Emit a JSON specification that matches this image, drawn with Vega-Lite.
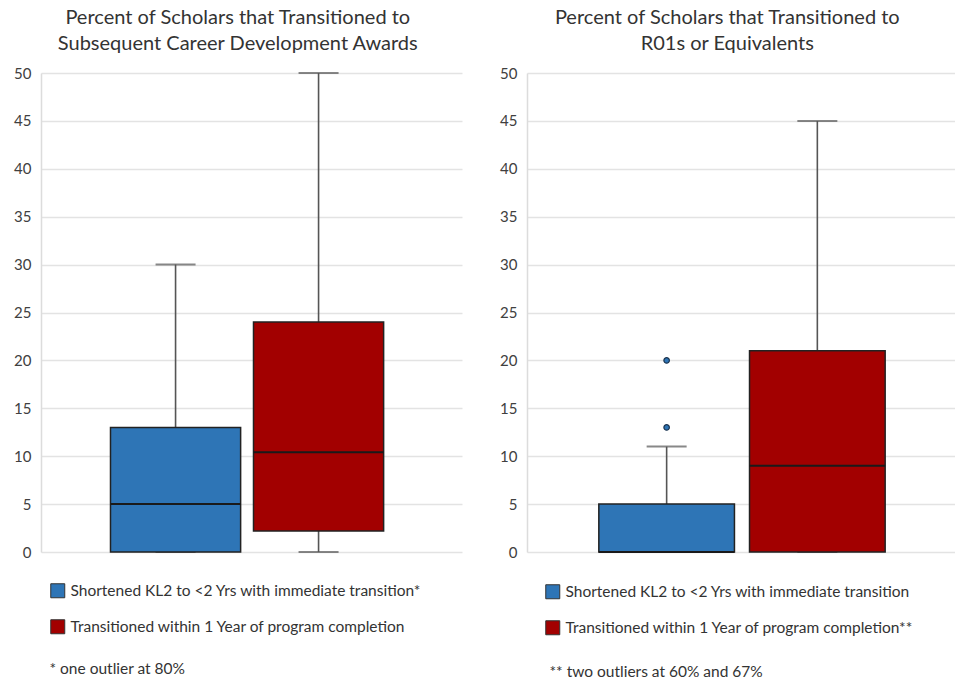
{
  "$schema": "https://vega.github.io/schema/vega-lite/v6.json",
  "background": "white",
  "padding": {"left": 13, "top": 8, "right": 0, "bottom": 0},
  "config": {
    "font": "Lato",
    "view": {"stroke": null},
    "title": {"fontSize": 20, "fontWeight": "normal", "color": "#333333", "lineHeight": 26, "offset": 12, "frame": "bounds"},
    "axisY": {
      "values": [0, 5, 10, 15, 20, 25, 30, 35, 40, 45, 50],
      "grid": true, "gridColor": "#e3e3e3", "gridWidth": 1.5,
      "domainColor": "#dcdcdc", "domainWidth": 1.5,
      "ticks": false, "labelPadding": 10,
      "labelFontSize": 15, "labelColor": "#404040", "title": null
    },
    "axisX": {
      "labels": false, "ticks": false, "domain": false, "grid": false,
      "titleFontSize": 15.5, "titleFontWeight": "normal", "titleColor": "#333333",
      "titleAnchor": "start", "titleAlign": "left", "titleBaseline": "middle"
    },
    "legend": {
      "orient": "none", "direction": "vertical",
      "symbolType": "square", "symbolSize": 196, "symbolStrokeColor": "#333333", "symbolStrokeWidth": 1,
      "symbolOpacity": 1, "labelFontSize": 15.5, "labelColor": "#333333", "labelLimit": 500,
      "rowPadding": 17, "labelOffset": 5, "title": null
    }
  },
  "datasets": {
    "cda": [
      {"group": "Shortened KL2 to <2 Yrs with immediate transition*", "lo": 0, "q1": 0, "median": 5, "q3": 13, "hi": 30},
      {"group": "Transitioned within 1 Year of program completion", "lo": 0, "q1": 2.2, "median": 10.4, "q3": 24, "hi": 50}
    ],
    "r01": [
      {"group": "Shortened KL2 to <2 Yrs with immediate transition", "lo": 0, "q1": 0, "median": 0, "q3": 5, "hi": 11},
      {"group": "Transitioned within 1 Year of program completion**", "lo": 0, "q1": 0, "median": 9, "q3": 21, "hi": 45}
    ],
    "r01_outliers": [
      {"group": "Shortened KL2 to <2 Yrs with immediate transition", "value": 13},
      {"group": "Shortened KL2 to <2 Yrs with immediate transition", "value": 20}
    ]
  },
  "hconcat": [
    {
      "width": 421,
      "height": 479,
      "title": {"text": ["Percent of Scholars that Transitioned to", "Subsequent Career Development Awards"]},
      "data": {"name": "cda"},
      "encoding": {
        "x": {
          "field": "group", "type": "nominal", "sort": null,
          "scale": {"paddingInner": 0.09, "paddingOuter": 0.517, "align": 0.47},
          "axis": {"title": "* one outlier at 80%", "titleX": 8, "titleY": 116}
        }
      },
      "layer": [
        {
          "mark": {"type": "rule", "color": "#555555", "strokeWidth": 1.6},
          "encoding": {
            "y": {"field": "lo", "type": "quantitative", "scale": {"domain": [0, 50], "nice": false}},
            "y2": {"field": "hi"}
          }
        },
        {
          "mark": {"type": "tick", "color": "#555555", "size": 40, "thickness": 2},
          "encoding": {"y": {"field": "lo", "type": "quantitative"}}
        },
        {
          "mark": {"type": "tick", "color": "#555555", "size": 40, "thickness": 2},
          "encoding": {"y": {"field": "hi", "type": "quantitative"}}
        },
        {
          "mark": {"type": "bar", "stroke": "#222222", "strokeWidth": 1.5, "opacity": 1},
          "encoding": {
            "y": {"field": "q1", "type": "quantitative"},
            "y2": {"field": "q3"},
            "color": {
              "field": "group", "type": "nominal", "sort": null,
              "scale": {"range": ["#2e75b6", "#a20000"]},
              "legend": {"legendX": 9, "legendY": 510}
            }
          }
        },
        {
          "mark": {"type": "bar", "fill": null, "stroke": "#1a1a1a", "strokeWidth": 2},
          "encoding": {
            "y": {"field": "median", "type": "quantitative"},
            "y2": {"field": "median"}
          }
        }
      ]
    },
    {
      "width": 428,
      "height": 479,
      "title": {"text": ["Percent of Scholars that Transitioned to", "R01s or Equivalents"]},
      "encoding": {
        "x": {
          "field": "group", "type": "nominal", "sort": null,
          "scale": {"paddingInner": 0.1, "paddingOuter": 0.47, "align": 0.507},
          "axis": {"title": "** two outliers at 60% and 67%", "titleX": 22, "titleY": 119}
        }
      },
      "layer": [
        {
          "data": {"name": "r01"},
          "mark": {"type": "rule", "color": "#555555", "strokeWidth": 1.6},
          "encoding": {
            "y": {"field": "lo", "type": "quantitative", "scale": {"domain": [0, 50], "nice": false}},
            "y2": {"field": "hi"}
          }
        },
        {
          "data": {"name": "r01"},
          "mark": {"type": "tick", "color": "#555555", "size": 40, "thickness": 2},
          "encoding": {"y": {"field": "lo", "type": "quantitative"}}
        },
        {
          "data": {"name": "r01"},
          "mark": {"type": "tick", "color": "#555555", "size": 40, "thickness": 2},
          "encoding": {"y": {"field": "hi", "type": "quantitative"}}
        },
        {
          "data": {"name": "r01"},
          "mark": {"type": "bar", "stroke": "#222222", "strokeWidth": 1.5, "opacity": 1},
          "encoding": {
            "y": {"field": "q1", "type": "quantitative"},
            "y2": {"field": "q3"},
            "color": {
              "field": "group", "type": "nominal", "sort": null,
              "scale": {"range": ["#2e75b6", "#a20000"]},
              "legend": {"legendX": 18, "legendY": 511}
            }
          }
        },
        {
          "data": {"name": "r01"},
          "mark": {"type": "bar", "fill": null, "stroke": "#1a1a1a", "strokeWidth": 2},
          "encoding": {
            "y": {"field": "median", "type": "quantitative"},
            "y2": {"field": "median"}
          }
        },
        {
          "data": {"name": "r01_outliers"},
          "mark": {"type": "point", "filled": true, "size": 30, "stroke": "#1c3550", "strokeWidth": 1.2, "opacity": 1},
          "encoding": {
            "y": {"field": "value", "type": "quantitative"},
            "color": {"field": "group", "type": "nominal", "sort": null, "legend": null}
          }
        }
      ]
    }
  ],
  "spacing": 37,
  "resolve": {"scale": {"color": "independent", "x": "independent"}, "legend": {"color": "independent"}}
}
